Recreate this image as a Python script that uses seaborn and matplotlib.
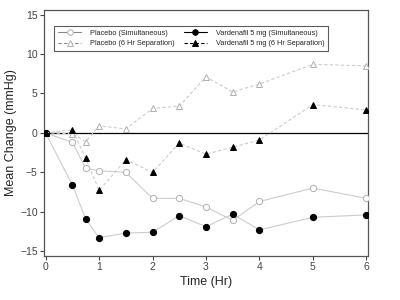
import matplotlib
matplotlib.use("Agg")
import matplotlib.pyplot as plt
import numpy as np
import pandas as pd
import seaborn as sns

# time points (hours)
time_hr = [0, 0.5, 0.75, 1, 1.5, 2, 2.5, 3, 3.5, 4, 5, 6]

# mean change in blood pressure (mmHg)
placebo_sim = [0, -1.2, -4.5, -4.8, -5.0, -8.3, -8.3, -9.4, -11.1, -8.7, -7.0, -8.3]
vard_sim = [0, -6.6, -10.9, -13.3, -12.7, -12.6, -10.5, -11.9, -10.3, -12.3, -10.7, -10.4]
placebo_6hr = [0, -0.1, -1.1, 0.9, 0.5, 3.1, 3.4, 7.1, 5.2, 6.2, 8.7, 8.5]
vard_6hr = [0, 0.4, -3.2, -7.3, -3.4, -5.0, -1.3, -2.7, -1.8, -0.9, 3.6, 2.9]

series_names = ["Placebo (Simultaneous)", "Placebo (6 Hr Separation)",
                "Vardenafil 5 mg (Simultaneous)", "Vardenafil 5 mg (6 Hr Separation)"]
series_values = [placebo_sim, placebo_6hr, vard_sim, vard_6hr]

df = pd.concat([pd.DataFrame({"time": time_hr, "change": v, "group": n})
                for n, v in zip(series_names, series_values)], ignore_index=True)

sns.set_style("white")
plt.rcParams['font.family'] = ['Liberation Sans', 'DejaVu Sans']

fig = plt.figure(figsize=(4, 3), dpi=100)
ax = fig.add_axes([0.11, 0.147, 0.81, 0.82])

line_gray = "#cccccc"
styles = {
    "Placebo (Simultaneous)": dict(ls="-", marker="o", mfc="white", mec="#b0b0b0", ms=4.5),
    "Placebo (6 Hr Separation)": dict(ls=(0, (3, 2)), marker="^", mfc="white", mec="#b0b0b0", ms=4.2),
    "Vardenafil 5 mg (Simultaneous)": dict(ls="-", marker="o", mfc="black", mec="black", ms=4.5),
    "Vardenafil 5 mg (6 Hr Separation)": dict(ls=(0, (3, 2)), marker="^", mfc="black", mec="black", ms=4.2),
}

ax.axhline(0, color="black", lw=0.9, zorder=1)

handles = []
for name in series_names:
    st = styles[name]
    sub = df[df["group"] == name]
    sns.lineplot(data=sub, x="time", y="change", ax=ax, color=line_gray, lw=0.8,
                 linestyle=st["ls"], marker=st["marker"], markerfacecolor=st["mfc"],
                 markeredgecolor=st["mec"], markersize=st["ms"], markeredgewidth=0.7,
                 legend=False, zorder=3)
    h, = ax.plot([], [], color="#888888" if st["mfc"] == "white" else "black", lw=0.8,
                 linestyle=st["ls"], marker=st["marker"], markerfacecolor=st["mfc"],
                 markeredgecolor=st["mec"], markersize=4, markeredgewidth=0.7)
    handles.append(h)

ax.set_xlim(-0.03, 6.03)
ax.set_ylim(-15.6, 15.6)
ax.set_xticks([0, 1, 2, 3, 4, 5, 6])
ax.set_yticks([-15, -10, -5, 0, 5, 10, 15])
ax.tick_params(axis="both", direction="out", length=3, width=0.8, labelsize=7.5,
               colors="#444444", left=True, bottom=True, pad=1.5)
for sp in ax.spines.values():
    sp.set_color("#555555")
    sp.set_linewidth(0.9)

ax.set_xlabel("Time (Hr)", fontsize=9, labelpad=3)
ax.set_ylabel("Mean Change (mmHg)", fontsize=9, labelpad=2)

leg = ax.legend(handles, series_names, ncol=2, loc="upper left",
                bbox_to_anchor=(0.02, 0.95), prop=dict(size=5.3),
                frameon=True, fancybox=False, edgecolor="#333333", handlelength=3.2,
                columnspacing=1.2, borderpad=0.5, labelspacing=0.45, handletextpad=1.2)
leg.get_frame().set_linewidth(0.8)

fig.savefig("out.png", dpi=100)
